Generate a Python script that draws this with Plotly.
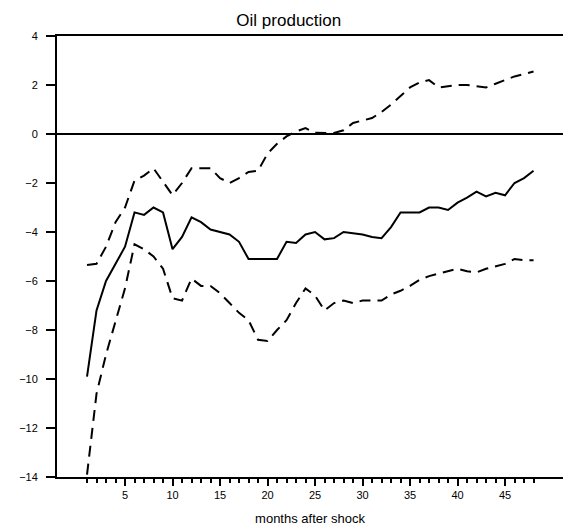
import plotly.graph_objects as go

# Impulse response of oil production with error bands (months 1..48)
months = list(range(1, 49))

response = [
    -9.9, -7.2, -6.0, -5.3, -4.6, -3.2, -3.3, -3.0, -3.2, -4.7,
    -4.2, -3.4, -3.6, -3.9, -4.0, -4.1, -4.4, -5.1, -5.1, -5.1,
    -5.1, -4.4, -4.45, -4.1, -4.0, -4.3, -4.25, -4.0, -4.05, -4.1,
    -4.2, -4.25, -3.8, -3.2, -3.2, -3.2, -3.0, -3.0, -3.1, -2.8,
    -2.6, -2.35, -2.55, -2.4, -2.5, -2.0, -1.8, -1.5,
]

upper_band = [
    -5.35, -5.3, -4.6, -3.6, -3.0, -1.9, -1.7, -1.4, -1.95, -2.5,
    -2.0, -1.4, -1.4, -1.4, -1.8, -2.0, -1.8, -1.55, -1.5, -0.8,
    -0.4, -0.1, 0.1, 0.24, 0.05, 0.05, 0.04, 0.15, 0.45, 0.55,
    0.65, 0.9, 1.2, 1.55, 1.9, 2.1, 2.2, 1.9, 1.95, 2.0,
    2.0, 1.95, 1.9, 2.05, 2.2, 2.35, 2.45, 2.55,
]

lower_band = [
    -13.9, -10.6, -9.0, -7.6, -6.3, -4.5, -4.7, -5.0, -5.5, -6.7,
    -6.8, -5.9, -6.2, -6.2, -6.5, -6.9, -7.3, -7.6, -8.4, -8.45,
    -8.0, -7.6, -6.9, -6.3, -6.6, -7.2, -6.9, -6.8, -6.9, -6.8,
    -6.8, -6.8, -6.55, -6.4, -6.2, -5.95, -5.8, -5.7, -5.6, -5.5,
    -5.6, -5.65, -5.5, -5.4, -5.3, -5.1, -5.15, -5.15,
]

x_major_ticks = [5, 10, 15, 20, 25, 30, 35, 40, 45]
y_ticks = [4, 2, 0, -2, -4, -6, -8, -10, -12, -14]

font_family = "Liberation Sans, Arial, sans-serif"

fig = go.Figure()
fig.add_trace(go.Scatter(x=months, y=upper_band, mode="lines",
                         line=dict(color="black", width=2, dash="11px,7px"),
                         showlegend=False))
fig.add_trace(go.Scatter(x=months, y=lower_band, mode="lines",
                         line=dict(color="black", width=2, dash="11px,7px"),
                         showlegend=False))
fig.add_trace(go.Scatter(x=months, y=response, mode="lines",
                         line=dict(color="black", width=2),
                         showlegend=False))

fig.update_layout(
    width=563, height=531,
    margin=dict(l=57, r=0, t=36, b=54),
    paper_bgcolor="white", plot_bgcolor="white",
    font=dict(family=font_family, color="black", size=11),
    title=dict(text="Oil production", x=0.513, xanchor="center",
               y=0.962, yanchor="middle",
               font=dict(size=17, family=font_family, color="black")),
    xaxis=dict(
        range=[-2.16, 51.1],
        tickmode="array", tickvals=x_major_ticks,
        ticks="outside", ticklen=7, tickwidth=2, tickcolor="black",
        minor=dict(tickmode="array", tickvals=months, ticks="outside",
                   ticklen=4, tickwidth=1.5, tickcolor="black"),
        showline=True, linecolor="black", linewidth=2, mirror=True,
        showgrid=False, zeroline=False,
        title=dict(text="months after shock", standoff=14,
                   font=dict(size=13, family=font_family)),
        tickfont=dict(size=11),
    ),
    yaxis=dict(
        range=[-14, 4],
        tickmode="array", tickvals=y_ticks,
        ticks="outside", ticklen=9, tickwidth=2, tickcolor="black",
        ticklabelstandoff=6,
        showline=True, linecolor="black", linewidth=2, mirror=False,
        showgrid=False,
        zeroline=True, zerolinecolor="black", zerolinewidth=2,
        tickfont=dict(size=11),
    ),
)

fig.write_html("out.html")
